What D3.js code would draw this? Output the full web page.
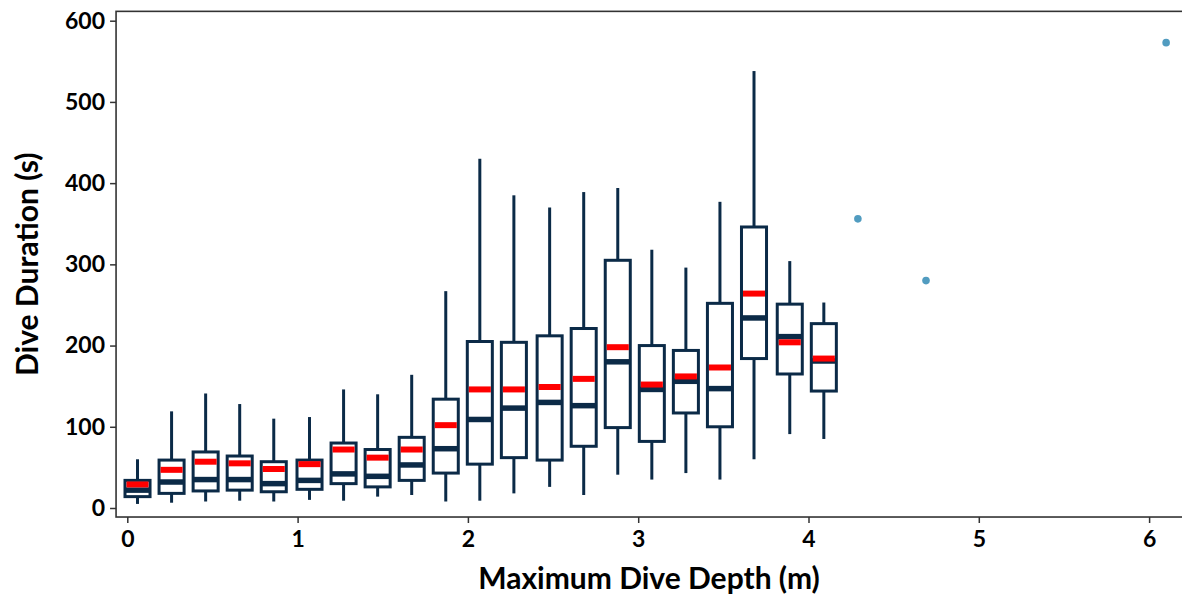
<!DOCTYPE html>
<html>
<head>
<meta charset="utf-8">
<script src="https://cdn.jsdelivr.net/npm/d3@7"></script>
<style>
  html, body { margin: 0; padding: 0; background: #ffffff; }
  svg { display: block; }
  text { font-family: Lato, "Open Sans", sans-serif; font-weight: 700; fill: #000; }
</style>
</head>
<body>
<svg id="chart" width="1182" height="597"></svg>
<script>
// Depth bins (m) at which each box is centred
const depthBins = [0.06, 0.26, 0.46, 0.66, 0.86, 1.07, 1.27, 1.47, 1.67, 1.87, 2.07,
                   2.27, 2.48, 2.68, 2.88, 3.08, 3.28, 3.48, 3.68, 3.89, 4.09];
// Dive duration summaries (s) per depth bin
const whiskerLow  = [5, 6.5, 8, 9, 8, 10, 9, 14, 16, 8, 9, 18, 26, 16, 41, 35, 43, 35, 60, 91, 85];
const q1          = [14, 18, 21, 22, 20, 23, 30, 26, 34, 43, 54, 62, 59, 76, 99, 82, 117, 100, 184, 165, 144];
const medians     = [22, 32, 35, 35, 30, 34, 42, 39, 53, 73, 109, 123, 130, 126, 180, 146, 156, 147, 234, 211, 181];
const q3          = [34, 59, 69, 64, 57, 59, 80, 72, 87, 134, 205, 204, 212, 221, 305, 200, 194, 252, 346, 251, 227];
const whiskerHigh = [60, 119, 141, 128, 110, 112, 146, 140, 164, 267, 430, 385, 370, 389, 394, 318, 296, 377, 538, 304, 253];
const means       = [29, 47, 57, 55, 48, 54, 72, 62, 72, 102, 146, 146, 149, 159, 198, 152, 162, 173, 264, 204, 184];

// Single dives at the deepest depths
const pointDepth    = [4.29, 4.69, 6.10];
const pointDuration = [356, 280, 573];

const xTicks = [0, 1, 2, 3, 4, 5, 6];
const yTicks = [0, 100, 200, 300, 400, 500, 600];

const svg = d3.select("#chart");
const navy = "#0b2a47";

const x = d3.scaleLinear().domain([0, 6]).range([127.3, 1149.1]);
const y = d3.scaleLinear().domain([0, 600]).range([508, 20.7]);

const panel = { left: x(-0.066), right: x(6.2), top: y(611.5), bottom: y(-11.1) };

// Panel frame
svg.append("rect")
  .attr("x", panel.left).attr("y", panel.top)
  .attr("width", panel.right - panel.left + 4)
  .attr("height", panel.bottom - panel.top)
  .attr("fill", "none").attr("stroke", "#333").attr("stroke-width", 1.6);

// Axes
const xAxis = d3.axisBottom(x).tickValues(xTicks).tickFormat(d3.format("d"))
  .tickSize(6).tickPadding(8);
const yAxis = d3.axisLeft(y).tickValues(yTicks).tickFormat(d3.format("d"))
  .tickSize(6).tickPadding(5);

const gx = svg.append("g").attr("transform", `translate(0,${panel.bottom})`).call(xAxis);
const gy = svg.append("g").attr("transform", `translate(${panel.left},0)`).call(yAxis);
[gx, gy].forEach(g => {
  g.select(".domain").remove();
  g.selectAll(".tick line").attr("stroke", "#333").attr("stroke-width", 1.5);
  g.selectAll(".tick text").style("font-size", "23px").style("font-family", "Lato, sans-serif")
    .style("font-weight", 700).attr("fill", "#000");
});

// Boxes
const boxW = x(0.147) - x(0);
const data = depthBins.map((d, i) => ({
  depth: d, lo: whiskerLow[i], q1: q1[i], med: medians[i], q3: q3[i], hi: whiskerHigh[i], mean: means[i]
}));

const g = svg.append("g");
const box = g.selectAll("g.box").data(data).join("g").attr("class", "box");

box.append("line")
  .attr("x1", d => x(d.depth)).attr("x2", d => x(d.depth))
  .attr("y1", d => y(d.hi)).attr("y2", d => y(d.q3))
  .attr("stroke", navy).attr("stroke-width", 3);
box.append("line")
  .attr("x1", d => x(d.depth)).attr("x2", d => x(d.depth))
  .attr("y1", d => y(d.q1)).attr("y2", d => y(d.lo))
  .attr("stroke", navy).attr("stroke-width", 3);
box.append("rect")
  .attr("x", d => x(d.depth) - boxW / 2).attr("width", boxW)
  .attr("y", d => y(d.q3)).attr("height", d => y(d.q1) - y(d.q3))
  .attr("fill", "#fff").attr("stroke", navy).attr("stroke-width", 3);
box.append("line")
  .attr("x1", d => x(d.depth) - boxW / 2).attr("x2", d => x(d.depth) + boxW / 2)
  .attr("y1", d => y(d.med)).attr("y2", d => y(d.med))
  .attr("stroke", navy).attr("stroke-width", 5.5);
box.append("line")
  .attr("x1", d => x(d.depth) - boxW / 2 + 1.5).attr("x2", d => x(d.depth) + boxW / 2 - 1.5)
  .attr("y1", d => y(d.mean)).attr("y2", d => y(d.mean))
  .attr("stroke", "#ff0000").attr("stroke-width", 6);

// Individual dives
g.selectAll("circle").data(pointDepth.map((d, i) => ({ depth: d, dur: pointDuration[i] })))
  .join("circle")
  .attr("cx", d => x(d.depth)).attr("cy", d => y(d.dur)).attr("r", 3.8)
  .attr("fill", "#519cc0");

// Axis titles
svg.append("text")
  .attr("x", (panel.left + 1182) / 2).attr("y", 589)
  .attr("text-anchor", "middle").style("font-size", "30px")
  .text("Maximum Dive Depth (m)");
svg.append("text")
  .attr("transform", `translate(38,${(panel.top + panel.bottom) / 2}) rotate(-90)`)
  .attr("text-anchor", "middle").style("font-size", "30px")
  .text("Dive Duration (s)");
</script>
</body>
</html>
